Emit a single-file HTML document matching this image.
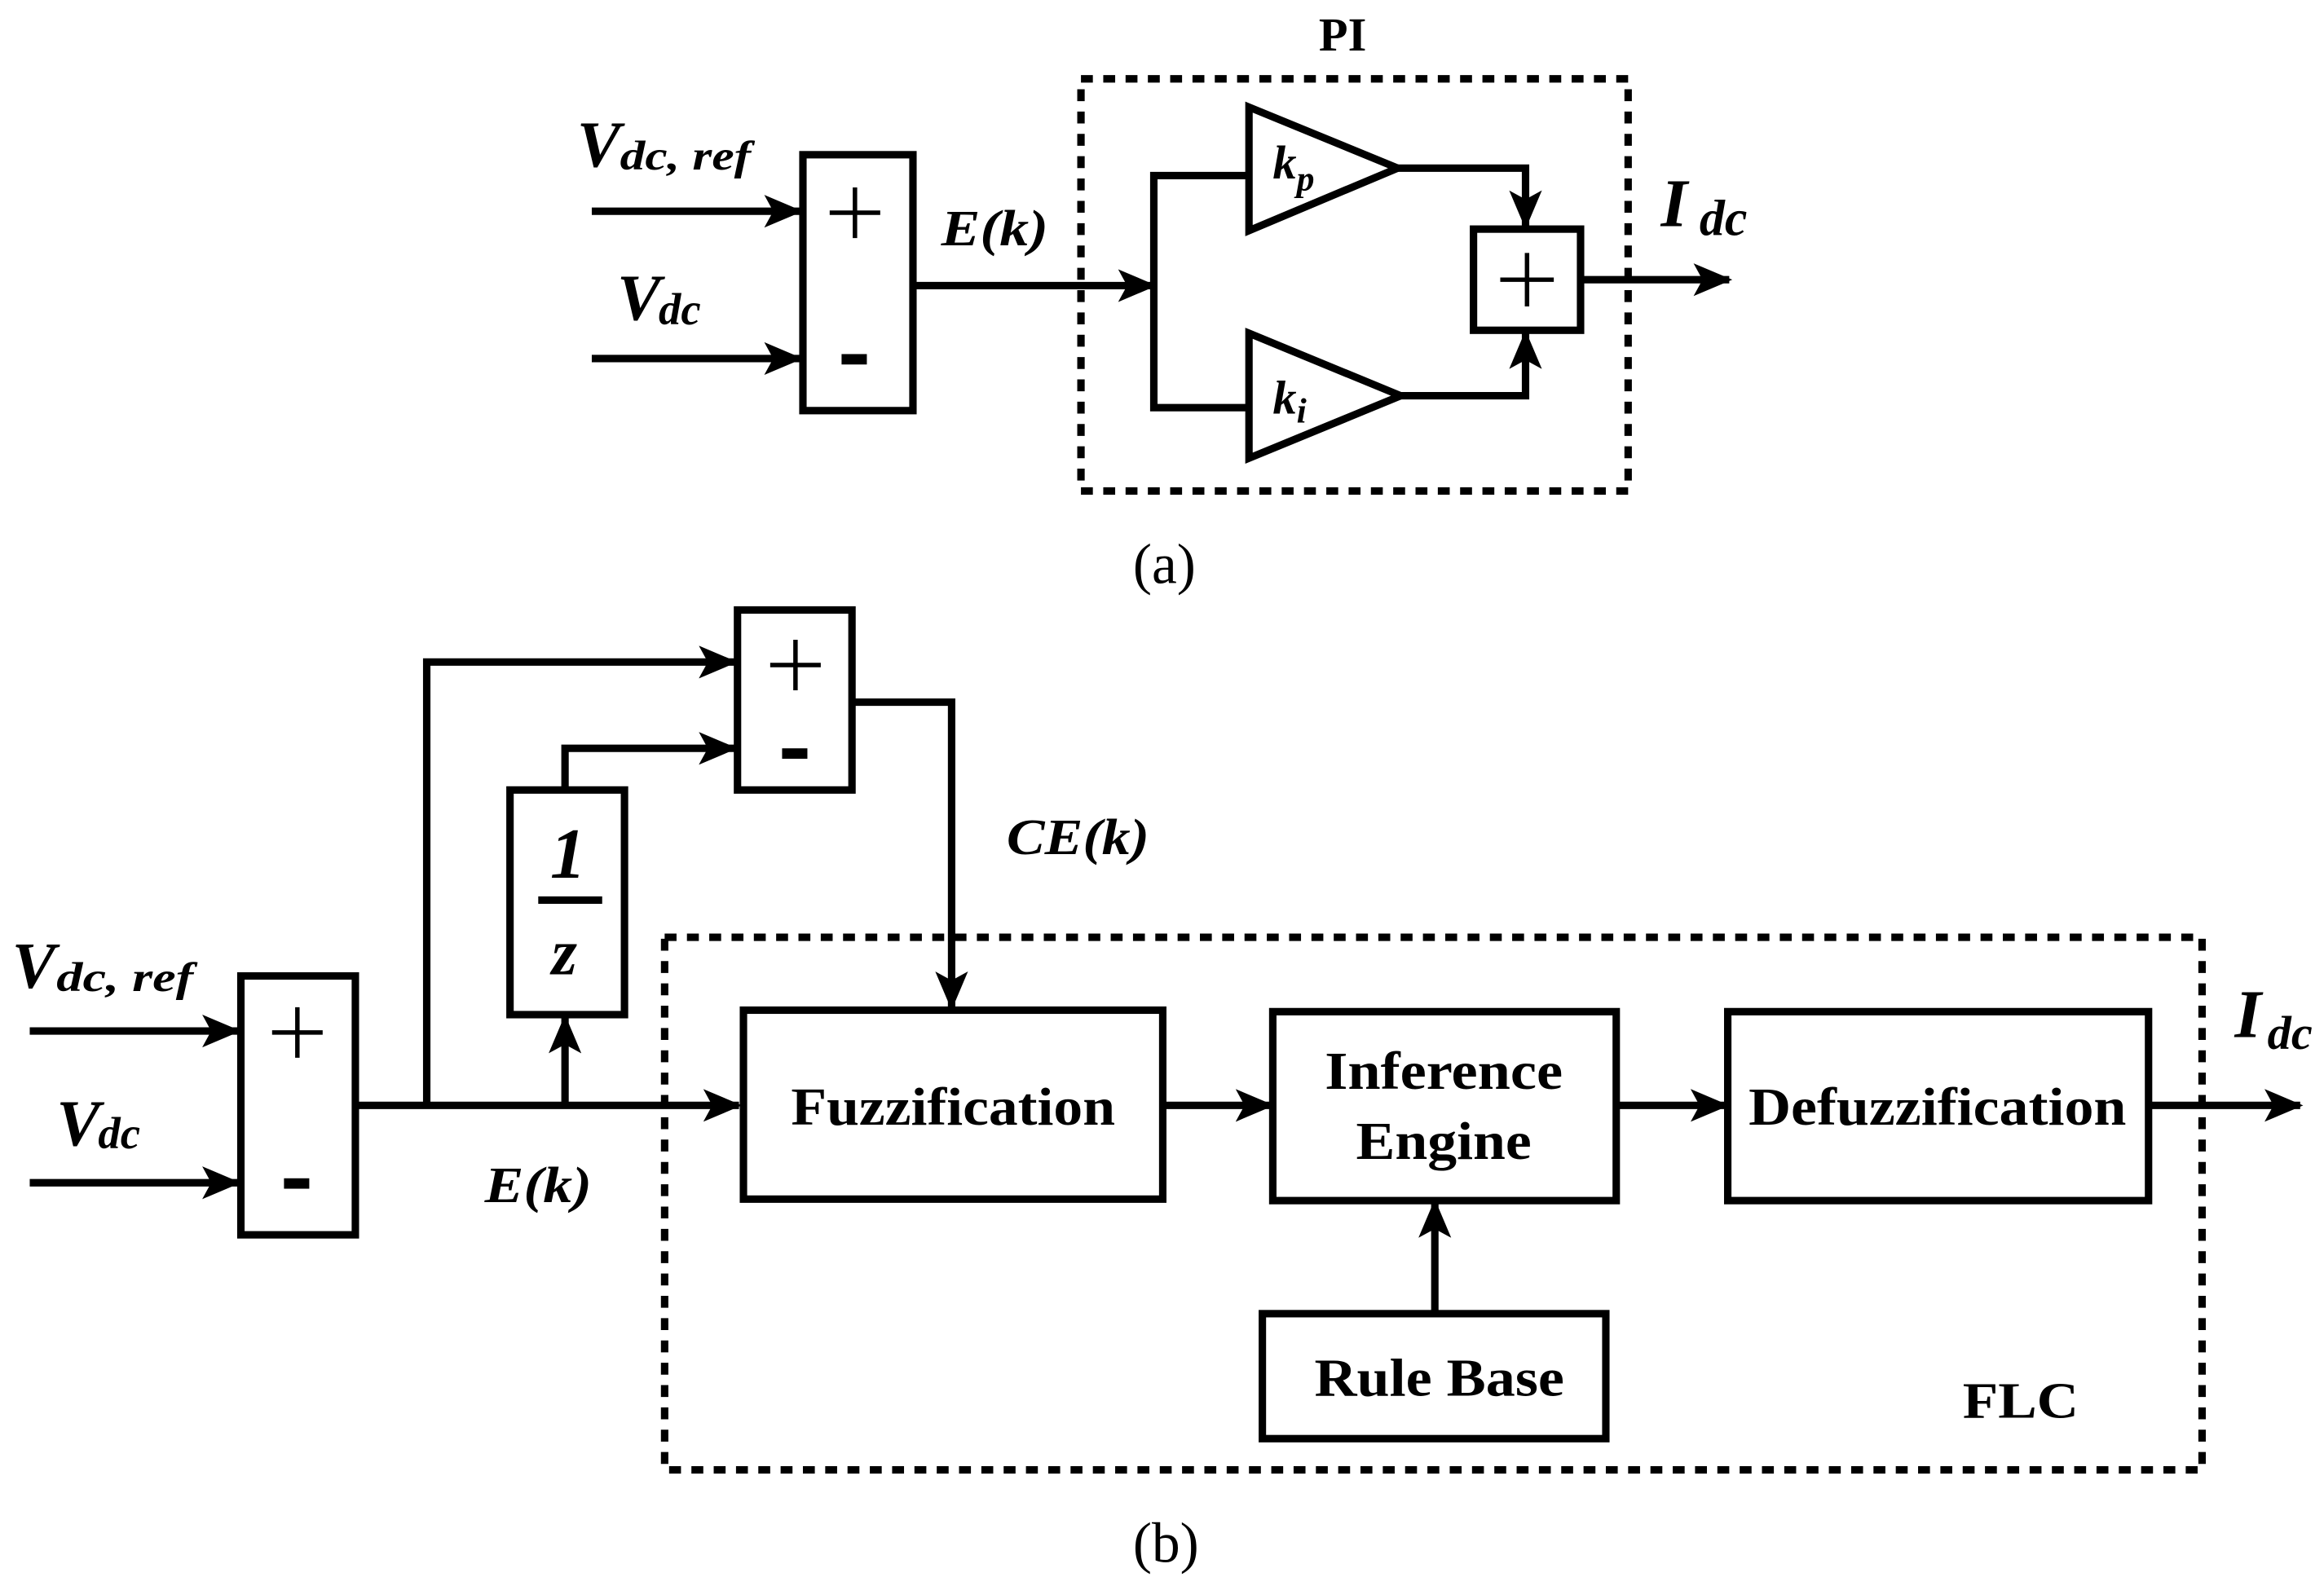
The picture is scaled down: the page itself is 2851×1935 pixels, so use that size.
<!DOCTYPE html>
<html><head><meta charset="utf-8"><style>
html,body{margin:0;padding:0;background:#fff;}
svg{display:block;}
text{font-family:"Liberation Serif",serif;font-weight:bold;fill:#000;}
.i{font-style:italic;}
</style></head><body>
<svg width="2851" height="1935" viewBox="0 0 1563 1060" preserveAspectRatio="none" xmlns="http://www.w3.org/2000/svg">
<defs>
<marker id="a" viewBox="0 0 26 22" refX="24" refY="11" markerWidth="26" markerHeight="22" markerUnits="userSpaceOnUse" orient="auto">
<path d="M0,0 L26,11 L0,22 L6,11 Z" fill="#000"/>
</marker>
</defs>
<g stroke="#000" stroke-width="5" fill="none" stroke-linejoin="miter">
<!-- (a) -->
<line x1="398" y1="142" x2="538" y2="142" marker-end="url(#a)"/>
<line x1="398" y1="241" x2="538" y2="241" marker-end="url(#a)"/>
<rect x="540" y="104" width="74" height="172"/>
<line x1="614" y1="192" x2="776" y2="192" marker-end="url(#a)"/>
<polyline points="840,118 776,118 776,274 840,274"/>
<polygon points="840,72 940,113 840,155"/>
<polygon points="840,224 942,266 840,308"/>
<polyline points="940,113 1026,113 1026,152" marker-end="url(#a)"/>
<polyline points="942,266 1026,266 1026,224" marker-end="url(#a)"/>
<rect x="991" y="154" width="72" height="68"/>
<line x1="1063" y1="188" x2="1163" y2="188" marker-end="url(#a)"/>
<rect x="727" y="53" width="368" height="277" stroke-dasharray="8,7"/>
<!-- (b) -->
<line x1="20" y1="693" x2="160" y2="693" marker-end="url(#a)"/>
<line x1="20" y1="795" x2="160" y2="795" marker-end="url(#a)"/>
<rect x="162" y="656" width="77" height="174"/>
<line x1="239" y1="743" x2="497" y2="743" marker-end="url(#a)"/>
<polyline points="287,743 287,445 494,445" marker-end="url(#a)"/>
<line x1="380" y1="743" x2="380" y2="684" marker-end="url(#a)"/>
<rect x="343" y="531" width="77" height="151"/>
<polyline points="380,531 380,503 494,503" marker-end="url(#a)"/>
<rect x="496" y="410" width="77" height="121"/>
<polyline points="573,472 640,472 640,677" marker-end="url(#a)"/>
<rect x="447" y="630" width="1034" height="358" stroke-dasharray="8,7"/>
<rect x="500" y="679" width="282" height="127"/>
<line x1="782" y1="743" x2="855" y2="743" marker-end="url(#a)"/>
<rect x="856" y="680" width="231" height="127"/>
<line x1="1087" y1="743" x2="1161" y2="743" marker-end="url(#a)"/>
<rect x="1162" y="680" width="283" height="127"/>
<line x1="1445" y1="743" x2="1547" y2="743" marker-end="url(#a)"/>
<rect x="849" y="883" width="231" height="84"/>
<line x1="965" y1="883" x2="965" y2="808" marker-end="url(#a)"/>
<line x1="362" y1="605" x2="405" y2="605"/>
</g>
<g stroke="#000" stroke-width="3">
<line x1="558" y1="143" x2="592" y2="143"/><line x1="575" y1="126" x2="575" y2="160"/>
<line x1="1009" y1="188" x2="1045" y2="188"/><line x1="1027" y1="170" x2="1027" y2="206"/>
<line x1="183" y1="694" x2="217" y2="694"/><line x1="200" y1="677" x2="200" y2="711"/>
<line x1="518" y1="447" x2="552" y2="447"/><line x1="535" y1="430" x2="535" y2="464"/>
</g>
<g fill="#000">
<rect x="566" y="238" width="17" height="7"/>
<rect x="191" y="792" width="17" height="7"/>
<rect x="526" y="503" width="17" height="7"/>
</g>
<!-- labels -->
<text class="i" x="388" y="112" font-size="44">V</text>
<text class="i" x="417" y="114" font-size="28" textLength="88" lengthAdjust="spacingAndGlyphs">dc, ref</text>
<text class="i" x="415" y="215" font-size="44">V</text>
<text class="i" x="443" y="218" font-size="30">dc</text>
<text class="i" x="633" y="165" font-size="34" textLength="72" lengthAdjust="spacingAndGlyphs">E(k)</text>
<text class="i" x="856" y="120" font-size="32">k</text>
<text class="i" x="872" y="128" font-size="24">p</text>
<text class="i" x="856" y="278" font-size="32">k</text>
<text class="i" x="872" y="284" font-size="24">i</text>
<text class="i" x="1117" y="152" font-size="46">I</text>
<text class="i" x="1143" y="158" font-size="34">dc</text>
<text x="887" y="34" font-size="32">PI</text>
<text x="762" y="392" font-size="38" style="font-weight:normal">(a)</text>
<text class="i" x="8" y="664" font-size="44">V</text>
<text class="i" x="38" y="666" font-size="28" textLength="92" lengthAdjust="spacingAndGlyphs">dc, ref</text>
<text class="i" x="38" y="770" font-size="44">V</text>
<text class="i" x="66" y="772" font-size="30">dc</text>
<text class="i" x="326" y="808" font-size="34" textLength="72" lengthAdjust="spacingAndGlyphs">E(k)</text>
<text class="i" x="677" y="574" font-size="34" textLength="96" lengthAdjust="spacingAndGlyphs">CE(k)</text>
<text class="i" x="370" y="590" font-size="48">1</text>
<text class="i" x="371" y="655" font-size="44">z</text>
<text x="641" y="756" font-size="36" text-anchor="middle" textLength="218" lengthAdjust="spacingAndGlyphs">Fuzzification</text>
<text x="971" y="732" font-size="36" text-anchor="middle" textLength="160" lengthAdjust="spacingAndGlyphs">Inference</text>
<text x="971" y="779" font-size="36" text-anchor="middle" textLength="118" lengthAdjust="spacingAndGlyphs">Engine</text>
<text x="1303" y="756" font-size="36" text-anchor="middle" textLength="254" lengthAdjust="spacingAndGlyphs">Defuzzification</text>
<text x="968" y="938" font-size="36" text-anchor="middle" textLength="168" lengthAdjust="spacingAndGlyphs">Rule Base</text>
<text x="1320" y="953" font-size="34" textLength="78" lengthAdjust="spacingAndGlyphs">FLC</text>
<text class="i" x="1503" y="697" font-size="46">I</text>
<text class="i" x="1525" y="705" font-size="32">dc</text>
<text x="762" y="1050" font-size="38" style="font-weight:normal">(b)</text>
</svg>
</body></html>
